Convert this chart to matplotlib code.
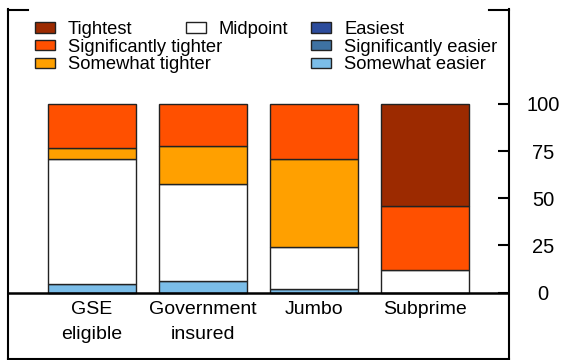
import matplotlib
matplotlib.use('Agg')
import matplotlib.pyplot as plt
from matplotlib.patches import Patch
import numpy as np

plt.rcParams['font.family'] = ['Liberation Sans', 'DejaVu Sans']

# Datos (porcentaje de respuestas)
categorias = ['GSE\neligible', 'Government\ninsured', 'Jumbo', 'Subprime']
series = ['Easiest', 'Significantly easier', 'Somewhat easier', 'Midpoint',
          'Somewhat tighter', 'Significantly tighter', 'Tightest']
easiest = [0, 0, 0, 0]
sig_easier = [0, 0, 0, 0]
somewhat_easier = [4.6, 6.0, 1.8, 0]
midpoint = [66.1, 51.4, 22.4, 11.9]
somewhat_tighter = [6.0, 20.3, 46.7, 0]
sig_tighter = [23.3, 22.3, 29.1, 34.1]
tightest = [0, 0, 0, 54.0]
valores = [easiest, sig_easier, somewhat_easier, midpoint,
           somewhat_tighter, sig_tighter, tightest]
colores = ['#2c4c9c', '#3e72a2', '#7bbde8', '#ffffff',
           '#ffa000', '#ff5000', '#9c2a00']

fig = plt.figure(figsize=(5.61, 3.6), dpi=100)
ax = fig.add_axes([8 / 561, 1 - 358.7 / 360, 501 / 561, 349.2 / 360])

x = np.arange(len(categorias))
base = np.zeros(len(categorias))
for nombre, vals, col in zip(series, valores, colores):
    vals = np.array(vals, dtype=float)
    m = vals > 0
    if m.any():
        ax.bar(x[m], vals[m], bottom=base[m], width=0.8, color=col,
               edgecolor='#222222', linewidth=1.0, zorder=2)
    base += vals

ax.axhline(0, color='black', lw=1.8, zorder=3)

ax.set_xlim(-0.757, 3.757)
ax.set_ylim(-35, 150)
ax.set_xticks([])

for i, cat in enumerate(categorias):
    ax.text(x[i], -4.3, cat, ha='center', va='top', fontsize=14, linespacing=1.6)

# Ejes: solo esquinas arriba
ax.spines['top'].set_visible(False)
for s in ['left', 'right', 'bottom']:
    ax.spines[s].set_linewidth(1.5)
ax.plot([0, 0.04], [1, 1], transform=ax.transAxes, color='black', lw=1.5, clip_on=False,
        solid_capstyle='projecting')
ax.plot([0.96, 1], [1, 1], transform=ax.transAxes, color='black', lw=1.5, clip_on=False,
        solid_capstyle='projecting')

ax.set_yticks([0, 25, 50, 75, 100])
ax.yaxis.tick_right()
ax.tick_params(axis='y', direction='in', length=8, width=1.5, pad=24.5, labelsize=14.5)
for lbl in ax.get_yticklabels():
    lbl.set_horizontalalignment('center')

# Leyenda en tres bloques
handles = [Patch(facecolor=c, edgecolor='#222222', linewidth=1.0, label=s)
           for s, c in zip(series, colores)]
bloques = [([handles[6], handles[5], handles[4]], 35),
           ([handles[3]], 186),
           ([handles[0], handles[1], handles[2]], 311)]
for hs, xpix in bloques:
    fig.legend(handles=hs, loc='upper left', bbox_to_anchor=(xpix / 561, 1 - 21.0 / 360),
               frameon=False, fontsize=13.2, handlelength=1.09, handleheight=0.47,
               handletextpad=0.71, labelspacing=0.04, borderpad=0, borderaxespad=0)

fig.savefig('out.png', dpi=100)
